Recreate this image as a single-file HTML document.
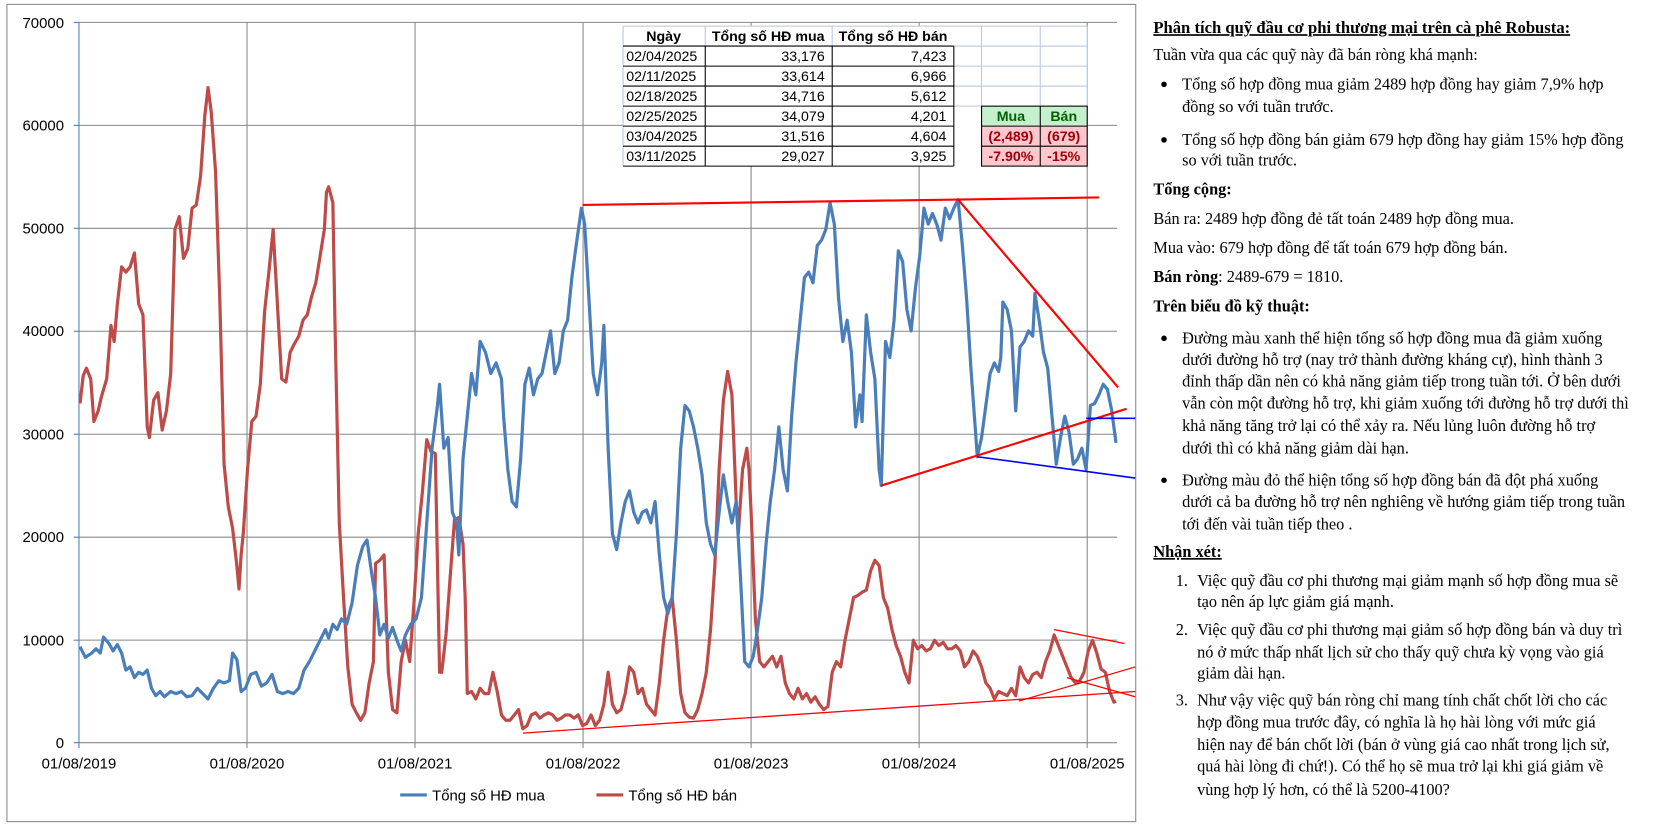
<!DOCTYPE html>
<html><head><meta charset="utf-8"><style>
html,body{margin:0;padding:0;background:#fff;width:1674px;height:826px;overflow:hidden}
svg{display:block}
.ax{font-family:"Liberation Sans",Arial,sans-serif;font-size:14px;fill:#000}
.tb{font-family:"Liberation Sans",Arial,sans-serif;font-size:13.3px;fill:#000}
.tx{font-family:"Liberation Serif","Times New Roman",serif;font-size:15.3px;fill:#000}
.b{font-weight:bold}
</style></head><body>
<svg width="1674" height="826" viewBox="0 0 1569 774" xmlns="http://www.w3.org/2000/svg">
<rect x="6.5" y="4" width="1058" height="766" fill="#fff" stroke="#888" stroke-width="1"/>
<g stroke="#888" stroke-width="1">
<line x1="74" y1="20.9" x2="1047" y2="20.9"/>
<line x1="74" y1="117.4" x2="1047" y2="117.4"/>
<line x1="74" y1="213.9" x2="1047" y2="213.9"/>
<line x1="74" y1="310.4" x2="1047" y2="310.4"/>
<line x1="74" y1="406.9" x2="1047" y2="406.9"/>
<line x1="74" y1="503.4" x2="1047" y2="503.4"/>
<line x1="74" y1="599.9" x2="1047" y2="599.9"/>
<line x1="74" y1="696" x2="1047" y2="696"/>
<line x1="231.5" y1="20.9" x2="231.5" y2="701"/>
<line x1="389" y1="20.9" x2="389" y2="701"/>
<line x1="546.5" y1="20.9" x2="546.5" y2="701"/>
<line x1="704" y1="20.9" x2="704" y2="701"/>
<line x1="861.5" y1="20.9" x2="861.5" y2="701"/>
<line x1="1019" y1="20.9" x2="1019" y2="701"/>
</g>
<g stroke="#4a7ebb" stroke-width="1">
<line x1="74" y1="20.9" x2="74" y2="701"/>
<line x1="69" y1="20.9" x2="74" y2="20.9"/><line x1="69" y1="117.4" x2="74" y2="117.4"/><line x1="69" y1="213.9" x2="74" y2="213.9"/><line x1="69" y1="310.4" x2="74" y2="310.4"/><line x1="69" y1="406.9" x2="74" y2="406.9"/><line x1="69" y1="503.4" x2="74" y2="503.4"/><line x1="69" y1="599.9" x2="74" y2="599.9"/><line x1="69" y1="696" x2="74" y2="696"/>
</g>
<g class="ax" text-anchor="end">
<text x="60" y="26">70000</text><text x="60" y="122">60000</text><text x="60" y="219">50000</text><text x="60" y="315">40000</text><text x="60" y="412">30000</text><text x="60" y="508">20000</text><text x="60" y="605">10000</text><text x="60" y="701">0</text>
</g>
<g class="ax" text-anchor="middle">
<text x="74" y="720">01/08/2019</text><text x="231.5" y="720">01/08/2020</text><text x="389" y="720">01/08/2021</text><text x="546.5" y="720">01/08/2022</text><text x="704" y="720">01/08/2023</text><text x="861.5" y="720">01/08/2024</text><text x="1019" y="720">01/08/2025</text>
</g>
<polyline fill="none" stroke="#be4b48" stroke-width="3" stroke-linejoin="round" points="75,378 78,352 81,345 85,355 88,395 92,385 95,372 100,355 104,305 107,320 110,285 114,250 118,255 122,250 126,237 130,285 134,295 138,400 140,410 144,375 148,368 152,403 156,385 160,350 164,215 168,203 172,242 176,233 180,195 184,192 188,165 192,108 195,82 198,105 202,160 206,280 210,435 214,475 218,495 222,530 224,552 226,520 228,500 232,440 236,395 240,390 244,360 248,292 252,255 256,215 260,285 264,355 268,358 272,330 276,322 280,315 284,300 288,295 292,278 296,265 300,240 304,215 306,180 308,175 312,190 314,305 318,490 322,560 326,625 330,660 334,668 338,675 342,668 346,640 350,620 352,528 356,525 360,520 364,630 368,665 372,668 376,620 380,600 384,620 388,565 392,500 396,460 400,412 404,423 408,425 412,630 414,630 418,595 422,540 426,487 430,485 434,510 436,560 438,650 442,648 446,655 450,645 454,650 458,650 462,630 466,648 470,670 474,675 478,675 482,670 486,665 490,683 494,680 498,670 502,668 506,673 510,670 514,668 518,670 522,675 526,673 530,670 534,670 538,673 542,670 546,680 550,678 554,670 558,680 562,675 566,660 570,630 574,660 578,668 582,665 586,650 590,625 594,630 598,650 602,645 606,660 610,665 614,670 618,640 622,600 626,570 630,560 634,600 638,650 642,668 646,672 650,673 654,665 658,650 662,630 666,590 670,530 674,440 678,375 682,348 686,370 690,470 692,500 696,440 700,420 702,440 704,480 708,580 712,620 716,625 720,620 724,615 728,625 732,615 736,640 740,650 744,655 748,645 752,655 756,650 760,658 764,653 768,660 772,665 776,662 780,630 784,620 788,625 792,600 796,580 800,560 804,558 808,555 812,553 816,535 820,525 824,530 828,560 832,570 836,590 840,605 844,615 848,630 852,640 856,600 860,608 864,605 868,610 872,608 876,600 880,605 884,602 888,608 892,608 896,605 900,610 904,625 908,620 912,610 916,615 920,625 924,640 928,645 932,655 936,648 940,650 944,652 948,645 952,652 956,625 960,635 964,640 968,632 972,630 976,635 980,620 984,610 988,595 992,605 996,615 1000,625 1004,635 1008,640 1012,638 1016,630 1020,610 1024,600 1028,612 1032,627 1036,630 1040,648 1044,658 1046,657"/>
<polyline fill="none" stroke="#4a7ebb" stroke-width="3" stroke-linejoin="round" points="75,606 80,616 86,612 90,608 94,612 97,597 102,603 106,610 110,604 114,612 118,628 122,625 126,635 130,630 134,632 138,628 142,645 146,652 150,648 154,653 160,648 165,650 170,648 175,653 180,652 185,645 190,650 195,655 200,645 205,638 210,640 215,638 218,612 222,618 226,648 230,645 235,632 240,630 245,643 250,640 255,632 260,648 265,650 270,648 275,650 280,645 285,628 290,620 295,610 300,600 305,590 308,598 312,585 316,590 320,580 325,585 330,565 335,530 340,512 344,506 348,535 352,560 356,595 360,585 364,598 368,588 372,600 376,610 380,595 385,585 390,580 395,560 400,490 405,420 410,380 412,360 416,420 420,410 424,480 428,490 430,520 434,430 438,390 442,350 446,370 450,320 455,330 460,350 465,340 470,355 472,390 476,440 480,470 484,475 488,430 492,360 496,345 500,370 504,355 508,350 512,330 516,310 520,350 524,340 528,310 532,300 536,260 540,230 545,195 548,210 552,280 556,350 560,370 564,340 566,305 570,420 574,500 578,515 582,490 586,470 590,460 594,480 598,490 602,480 606,478 610,490 614,470 618,520 622,560 626,575 630,560 634,500 638,420 642,380 646,385 650,400 654,420 658,445 662,490 666,510 670,520 674,480 678,445 682,470 686,490 690,470 694,540 698,620 702,625 706,615 710,590 714,560 718,510 722,470 726,440 730,400 734,440 738,460 742,390 746,340 750,300 754,260 758,255 762,265 766,230 770,225 774,215 778,190 782,210 786,280 790,320 794,300 798,330 802,400 806,370 808,395 812,295 816,330 820,355 824,440 826,455 830,320 834,335 838,300 842,235 846,245 850,290 854,310 858,270 862,240 866,195 870,210 874,200 878,210 882,225 886,195 890,205 894,195 898,187 902,230 906,280 910,345 914,400 916,428 920,410 924,380 928,350 932,340 936,348 938,335 940,283 944,290 948,310 952,385 956,325 960,320 964,310 968,315 970,275 974,300 978,330 982,345 986,390 990,435 994,410 998,390 1002,405 1006,435 1010,430 1014,420 1018,440 1022,380 1026,378 1030,370 1034,360 1038,365 1042,385 1046,415"/>
<g stroke="#ff0000" fill="none">
<line x1="546" y1="192" x2="1030" y2="185" stroke-width="2"/>
<line x1="898" y1="187" x2="1048" y2="363" stroke-width="2"/>
<line x1="826" y1="455" x2="1056" y2="383" stroke-width="2"/>
<line x1="490" y1="687" x2="1064" y2="648" stroke-width="1.2"/>
<line x1="988" y1="590" x2="1054" y2="603" stroke-width="1.2"/>
<line x1="955" y1="657" x2="1064" y2="625" stroke-width="1.2"/>
<line x1="1000" y1="635" x2="1064" y2="653" stroke-width="1.2"/>
</g>
<g stroke="#0000ff" stroke-width="1.5">
<line x1="916" y1="428" x2="1064" y2="448"/>
<line x1="1018" y1="392" x2="1064" y2="392"/>
</g>
<line x1="375" y1="745" x2="400" y2="745" stroke="#4a7ebb" stroke-width="3"/>
<text class="ax" x="405" y="750">Tổng số  HĐ mua</text>
<line x1="559" y1="745" x2="584" y2="745" stroke="#be4b48" stroke-width="3"/>
<text class="ax" x="589" y="750">Tổng số HĐ bán</text>
<rect x="584" y="24.4" width="435" height="131.2" fill="#fff"/>
<g stroke="#b8c8e0" stroke-width="1">
<line x1="894" y1="24.4" x2="1019" y2="24.4"/>
<line x1="894" y1="43.1" x2="1019" y2="43.1"/><line x1="894" y1="61.9" x2="1019" y2="61.9"/><line x1="894" y1="80.6" x2="1019" y2="80.6"/><line x1="894" y1="99.4" x2="1019" y2="99.4"/>
<line x1="920" y1="24.4" x2="920" y2="155.6"/><line x1="975" y1="24.4" x2="975" y2="155.6"/><line x1="1019" y1="24.4" x2="1019" y2="155.6"/>
<line x1="584" y1="24.4" x2="894" y2="24.4"/><line x1="584" y1="24.4" x2="584" y2="155.6"/>
<line x1="661" y1="24.4" x2="661" y2="43.1"/><line x1="780" y1="24.4" x2="780" y2="43.1"/>
</g>
<rect x="920" y="99.4" width="55" height="18.7" fill="#c6efce"/>
<rect x="975" y="99.4" width="44" height="18.7" fill="#c6efce"/>
<rect x="920" y="118.1" width="99" height="37.5" fill="#ffc7ce"/>
<g stroke="#000" stroke-width="1" fill="none">
<line x1="584" y1="43.1" x2="894" y2="43.1"/><line x1="584" y1="61.9" x2="894" y2="61.9"/><line x1="584" y1="80.6" x2="894" y2="80.6"/><line x1="584" y1="99.4" x2="894" y2="99.4"/><line x1="584" y1="118.1" x2="894" y2="118.1"/><line x1="584" y1="136.9" x2="894" y2="136.9"/><line x1="584" y1="155.6" x2="894" y2="155.6"/>
<line x1="661" y1="43.1" x2="661" y2="155.6"/><line x1="780" y1="43.1" x2="780" y2="155.6"/><line x1="894" y1="43.1" x2="894" y2="155.6"/>
<rect x="920" y="99.4" width="99" height="56.2"/>
<line x1="920" y1="118.1" x2="1019" y2="118.1"/><line x1="920" y1="136.9" x2="1019" y2="136.9"/><line x1="975" y1="99.4" x2="975" y2="155.6"/>
</g>
<g class="tb">
<text x="622" y="38.5" text-anchor="middle" class="b">Ngày</text>
<text x="720" y="38.5" text-anchor="middle" class="b">Tổng số  HĐ mua</text>
<text x="837" y="38.5" text-anchor="middle" class="b">Tổng số HĐ bán</text>
<text x="587" y="57">02/04/2025</text><text x="587" y="75.7">02/11/2025</text><text x="587" y="94.4">02/18/2025</text><text x="587" y="113.2">02/25/2025</text><text x="587" y="131.9">03/04/2025</text><text x="587" y="150.6">03/11/2025</text>
<g text-anchor="end">
<text x="773" y="57">33,176</text><text x="773" y="75.7">33,614</text><text x="773" y="94.4">34,716</text><text x="773" y="113.2">34,079</text><text x="773" y="131.9">31,516</text><text x="773" y="150.6">29,027</text>
<text x="887" y="57">7,423</text><text x="887" y="75.7">6,966</text><text x="887" y="94.4">5,612</text><text x="887" y="113.2">4,201</text><text x="887" y="131.9">4,604</text><text x="887" y="150.6">3,925</text>
</g>
<text x="947.5" y="113.2" text-anchor="middle" class="b" style="fill:#006100">Mua</text>
<text x="997" y="113.2" text-anchor="middle" class="b" style="fill:#006100">Bán</text>
<text x="947.5" y="131.9" text-anchor="middle" class="b" style="fill:#9c0006">(2,489)</text>
<text x="997" y="131.9" text-anchor="middle" class="b" style="fill:#9c0006">(679)</text>
<text x="947.5" y="150.6" text-anchor="middle" class="b" style="fill:#9c0006">-7.90%</text>
<text x="997" y="150.6" text-anchor="middle" class="b" style="fill:#9c0006">-15%</text>
</g>
<g fill="#000">
<circle cx="1091" cy="79" r="2.6"/><circle cx="1091" cy="131" r="2.6"/>
<circle cx="1091" cy="317" r="2.6"/><circle cx="1091" cy="450" r="2.6"/>
</g>
<g class="tx">
<text x="1081" y="31" class="b" text-decoration="underline" style="font-size:15.6px">Phân tích quỹ đầu cơ phi thương mại trên cà phê Robusta:</text>
<text x="1081" y="56">Tuần vừa qua các quỹ này đã bán ròng khá mạnh:</text>
<text x="1108" y="84">Tổng số hợp đồng mua giảm 2489 hợp đồng hay giảm 7,9% hợp</text>
<text x="1108" y="105">đồng so với tuần trước.</text>
<text x="1108" y="136">Tổng số hợp đồng bán giảm 679 hợp đồng hay giảm 15% hợp đồng</text>
<text x="1108" y="155">so với tuần trước.</text>
<text x="1081" y="182" class="b">Tổng cộng:</text>
<text x="1081" y="210">Bán ra: 2489 hợp đồng đẻ tất toán 2489 hợp đồng mua.</text>
<text x="1081" y="237">Mua vào: 679 hợp đồng để tất toán 679 hợp đồng bán.</text>
<text x="1081" y="264"><tspan class="b">Bán ròng</tspan>: 2489-679 = 1810.</text>
<text x="1081" y="292" class="b">Trên biểu đồ kỹ thuật:</text>
<text x="1108" y="322">Đường màu xanh thể hiện tổng số hợp đồng mua đã giảm xuống</text>
<text x="1108" y="342">dưới đường hỗ trợ (nay trở thành đường kháng cự), hình thành 3</text>
<text x="1108" y="362">đỉnh thấp dần nên có khả năng giảm tiếp trong tuần tới. Ở bên dưới</text>
<text x="1108" y="383">vẫn còn một đường hỗ trợ, khi giảm xuống tới đường hỗ trợ dưới thì</text>
<text x="1108" y="404">khả năng tăng trở lại có thể xảy ra. Nếu lủng luôn đường hỗ trợ</text>
<text x="1108" y="425">dưới thì có khả năng giảm dài hạn.</text>
<text x="1108" y="455">Đường màu đỏ thể hiện tổng số hợp đồng bán đã đột phá xuống</text>
<text x="1108" y="475">dưới cả ba đường hỗ trợ nên nghiêng về hướng giảm tiếp trong tuần</text>
<text x="1108" y="496">tới đến vài tuần tiếp theo .</text>
<text x="1081" y="522" class="b" text-decoration="underline">Nhận xét:</text>
<text x="1102" y="549">1.</text><text x="1122" y="549">Việc quỹ đầu cơ phi thương mại giảm mạnh số hợp đồng mua sẽ</text>
<text x="1122" y="569">tạo nên áp lực giảm giá mạnh.</text>
<text x="1102" y="595">2.</text><text x="1122" y="595">Việc quỹ đầu cơ phi thương mại giảm số hợp đồng bán và duy trì</text>
<text x="1122" y="616">nó ở mức thấp nhất lịch sử cho thấy quỹ chưa kỳ vọng vào giá</text>
<text x="1122" y="636">giảm dài hạn.</text>
<text x="1102" y="661">3.</text><text x="1122" y="661">Như vậy việc quỹ bán ròng chỉ mang tính chất chốt lời cho các</text>
<text x="1122" y="682">hợp đồng mua trước đây, có nghĩa là họ hài lòng với mức giá</text>
<text x="1122" y="703">hiện nay để bán chốt lời (bán ở vùng giá cao nhất trong lịch sử,</text>
<text x="1122" y="723">quá hài lòng đi chứ!). Có thể họ sẽ mua trở lại khi giá giảm về</text>
<text x="1122" y="745">vùng hợp lý hơn, có thể là 5200-4100?</text>
</g>
</svg>
</body></html>
